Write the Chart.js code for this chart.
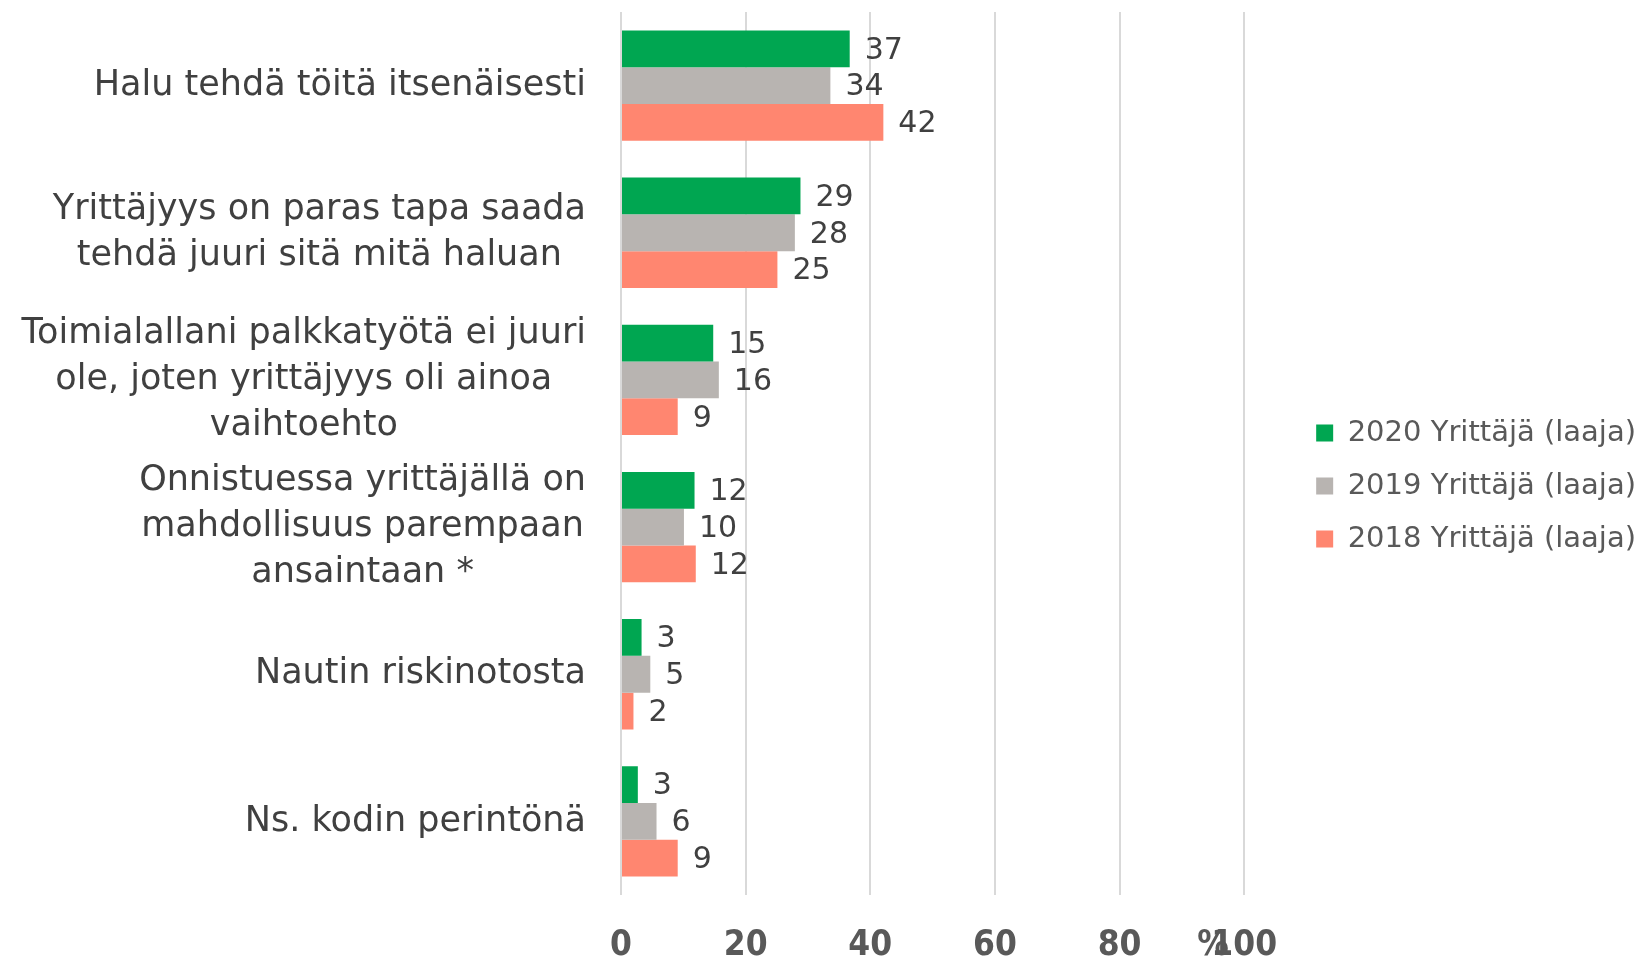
<!DOCTYPE html>
<html>
<head>
<meta charset="utf-8">
<script src="https://cdn.jsdelivr.net/npm/chart.js@4.4.1/dist/chart.umd.min.js"></script>
<style>
  html, body { margin: 0; padding: 0; background: #fff; }
  #wrap { width: 1642px; height: 960px; }
</style>
</head>
<body>
<div id="wrap"><canvas id="chart"></canvas></div>
<script>
const categories = [
    ["Halu tehdä töitä itsenäisesti"],
    ["Yrittäjyys on paras tapa saada", "tehdä juuri sitä mitä haluan"],
    ["Toimialallani palkkatyötä ei juuri", "ole, joten yrittäjyys oli ainoa", "vaihtoehto"],
    ["Onnistuessa yrittäjällä on", "mahdollisuus parempaan", "ansaintaan *"],
    ["Nautin riskinotosta"],
    ["Ns. kodin perintönä"]
];
const seriesNames = ["2020 Yrittäjä (laaja)", "2019 Yrittäjä (laaja)", "2018 Yrittäjä (laaja)"];
const values2020 = [36.7, 28.8, 14.8, 11.8, 3.3, 2.7];
const values2019 = [33.6, 27.9, 15.7, 10.1, 4.7, 5.7];
const values2018 = [42.1, 25.1, 9.1, 12.0, 2.0, 9.1];
const xTicks = [0, 20, 40, 60, 80, 100];
const unitLabel = "%";

const colors = ["#00A651", "#B8B4B1", "#FF8670"];
const FONT = "'DejaVu Sans', sans-serif";
const TICK_FONT = "'DejaVu Sans Condensed', 'DejaVu Sans', sans-serif";
const tickSize = 35;
const tickPad = 30;

// value labels, category labels and the % unit
const textPlugin = {
    id: "textPlugin",
    afterDraw(chart) {
        const ctx = chart.ctx;
        ctx.save();
        ctx.textBaseline = "middle";

        ctx.font = "30px " + FONT;
        ctx.fillStyle = "#404040";
        ctx.textAlign = "left";
        chart.data.datasets.forEach((ds, i) => {
            chart.getDatasetMeta(i).data.forEach((bar, j) => {
                ctx.fillText(String(Math.round(ds.data[j])), bar.x + 15, bar.y + 2);
            });
        });

        const yScale = chart.scales.y;
        ctx.font = "35px " + FONT;
        ctx.textAlign = "center";
        categories.forEach((lines, i) => {
            const cy = yScale.getPixelForTick(i);
            const w = Math.max(...lines.map(l => ctx.measureText(l).width));
            const cx = chart.chartArea.left - 35 - w / 2;
            lines.forEach((l, k) => {
                ctx.fillText(l, cx, cy + (k - (lines.length - 1) / 2) * 46);
            });
        });

        const xScale = chart.scales.x;
        ctx.font = "bold " + tickSize + "px " + TICK_FONT;
        ctx.fillStyle = "#595959";
        ctx.fillText(unitLabel, xScale.getPixelForValue(95), xScale.top + tickPad + tickSize * 0.6);
        ctx.restore();
    }
};

// push the legend away from the plot
const legendGap = {
    id: "legendGap",
    afterInit(chart) {
        const lg = chart.legend;
        const fit = lg.fit;
        lg.fit = function () { fit.call(this); this.width += 44; };
    },
    afterLayout(chart) {
        const lg = chart.legend;
        lg.left += 48;
        lg.right += 48;
    }
};

const ctx = document.getElementById("chart").getContext("2d");
const chart = new Chart(ctx, {
    type: "bar",
    data: {
        labels: categories,
        datasets: [
            { label: seriesNames[0], data: values2020, backgroundColor: colors[0] },
            { label: seriesNames[1], data: values2019, backgroundColor: colors[1] },
            { label: seriesNames[2], data: values2018, backgroundColor: colors[2] }
        ]
    },
    options: {
        indexAxis: "y",
        responsive: true,
        maintainAspectRatio: false,
        animation: false,
        devicePixelRatio: 1,
        datasets: { bar: { categoryPercentage: 0.75, barPercentage: 1.0, borderWidth: 0 } },
        layout: { padding: { top: 12, left: 0, right: 0, bottom: 0 } },
        scales: {
            x: {
                min: 0,
                max: 100,
                afterBuildTicks: (scale) => { scale.ticks = xTicks.map(v => ({ value: v })); },
                grid: { color: "#D9D9D9", lineWidth: 2, drawTicks: false },
                border: { display: false },
                ticks: {
                    padding: tickPad,
                    color: "#595959",
                    font: { family: TICK_FONT, size: tickSize, weight: "bold" }
                },
                afterFit: (scale) => { scale.height = 65; }
            },
            y: {
                grid: { display: false },
                border: { display: false },
                ticks: { display: false },
                afterFit: (scale) => { scale.width = 621; }
            }
        },
        plugins: {
            legend: {
                position: "right",
                align: "center",
                labels: {
                    boxWidth: 17,
                    boxHeight: 17,
                    padding: 24,
                    color: "#595959",
                    font: { family: FONT, size: 29 }
                }
            },
            tooltip: { enabled: false }
        }
    },
    plugins: [textPlugin, legendGap]
});
</script>
</body>
</html>
